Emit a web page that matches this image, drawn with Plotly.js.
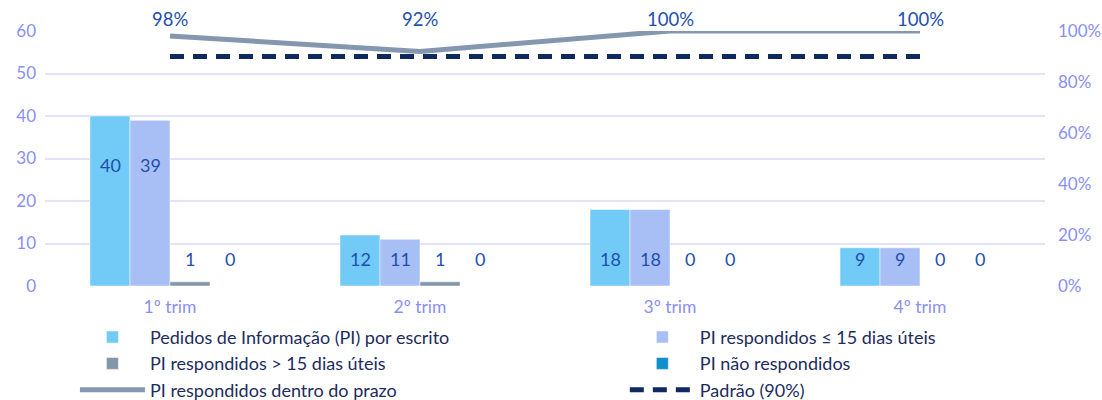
<!DOCTYPE html>
<html>
<head>
<meta charset="utf-8">
<script src="https://cdn.plot.ly/plotly-3.0.1.min.js"></script>
<style>html,body{margin:0;padding:0;background:#fff;}#chart{width:1102px;height:400px;}</style>
</head>
<body>
<div id="chart"></div>
<script>
const quarters = ["1º trim", "2º trim", "3º trim", "4º trim"];
const pedidos = [40, 12, 18, 9];
const ate15 = [39, 11, 18, 9];
const mais15 = [1, 1, 0, 0];
const naoResp = [0, 0, 0, 0];
const dentroPrazo = [0.98, 0.92, 1.0, 1.0];
const padrao = [0.9, 0.9, 0.9, 0.9];

const seriesNames = [
  "Pedidos de Informação (PI) por escrito",
  "PI respondidos ≤ 15 dias úteis",
  "PI respondidos > 15 dias úteis",
  "PI não respondidos"
];
const barSeries = [pedidos, ate15, mais15, naoResp];
const barColors = ["#72CAF6", "#A8BFF5", "#8497A9", "#0F8FCC"];
const barLegends = ["legend", "legend2", "legend", "legend2"];

const font = "Lato, 'Open Sans', sans-serif";
const labelColor = "#1F4FB0";
const bargap = 0.36;

const traces = barSeries.map((vals, j) => ({
  type: "bar",
  name: seriesNames[j],
  x: quarters,
  y: vals,
  legend: barLegends[j],
  marker: {color: barColors[j], line: {width: 0.5, color: "#ffffff"}},
  hoverinfo: "y"
}));

traces.push({
  type: "scatter", mode: "lines", name: "PI respondidos dentro do prazo",
  x: quarters, y: dentroPrazo, yaxis: "y2", legend: "legend",
  line: {color: "#8497AF", width: 5}
});
traces.push({
  type: "scatter", mode: "lines", name: "Padrão (90%)",
  x: quarters, y: padrao, yaxis: "y2", legend: "legend2",
  line: {color: "#0E2A5E", width: 5, dash: "14px,9px"}
});

const annotations = [];
const bw = (1 - bargap) / 4;
barSeries.forEach((vals, j) => {
  vals.forEach((v, i) => {
    annotations.push({
      xref: "x", yref: "y",
      x: i + (j - 1.5) * bw,
      y: v > 30 ? 28.5 : 6.3,
      text: String(v), showarrow: false,
      font: {family: font, size: 18, color: labelColor}
    });
  });
});
dentroPrazo.forEach((v, i) => {
  annotations.push({
    xref: "x", yref: "paper", x: i, y: 1, yanchor: "bottom", yshift: -1,
    text: Math.round(v * 100) + "%", showarrow: false,
    font: {family: font, size: 18.5, color: labelColor}
  });
});

const legendBase = {
  orientation: "v", yref: "container", y: 0.203, yanchor: "top",
  xref: "container", xanchor: "left", itemwidth: 65,
  font: {family: font, size: 18, color: "#1D2C5E"},
  tracegroupgap: 0, bgcolor: "rgba(0,0,0,0)", borderwidth: 0
};

const layout = {
  width: 1102, height: 400,
  margin: {l: 45, r: 57, t: 31, b: 114, autoexpand: false},
  paper_bgcolor: "#ffffff", plot_bgcolor: "#ffffff",
  barmode: "group", bargap: bargap, bargroupgap: 0,
  showlegend: true,
  font: {family: font},
  xaxis: {
    type: "category", showgrid: false, zeroline: false, showline: false,
    ticks: "", tickfont: {family: font, size: 17.5, color: "#8A8FF5"},
    ticklabelstandoff: 8, tickangle: 0, automargin: false
  },
  yaxis: {
    range: [0, 60], dtick: 10, showgrid: true, gridcolor: "#E2E3F8", gridwidth: 2,
    zeroline: false, showline: false, ticks: "", automargin: false,
    tickfont: {family: font, size: 17, color: "#8A8FF5"}, ticklabelstandoff: 8
  },
  yaxis2: {
    range: [0, 1], dtick: 0.2, tickformat: ".0%", overlaying: "y", side: "right",
    showgrid: false, zeroline: false, showline: false, ticks: "", automargin: false,
    tickfont: {family: font, size: 17, color: "#8A8FF5"}, ticklabelstandoff: 12
  },
  legend: Object.assign({}, legendBase, {x: 0.068}),
  legend2: Object.assign({}, legendBase, {x: 0.567}),
  annotations: annotations
};

Plotly.newPlot("chart", traces, layout, {displayModeBar: false, staticPlot: true});
</script>
</body>
</html>
